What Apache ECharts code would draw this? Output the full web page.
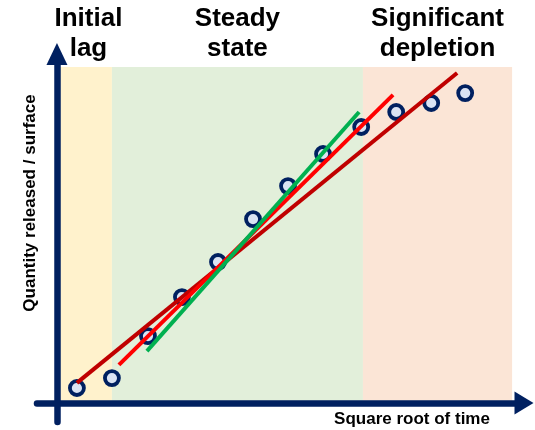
<!DOCTYPE html>
<html>
<head>
<meta charset="utf-8">
<style>
html,body{margin:0;padding:0;background:#fff;}
#chart{width:535px;height:430px;}
</style>
<script src="https://cdn.jsdelivr.net/npm/echarts@6/dist/echarts.min.js"></script>
</head>
<body>
<div id="chart"></div>
<script>
// Data (arbitrary units)
const sqrtTime = [0.57, 1.57, 2.6, 3.57, 4.6, 5.6, 6.6, 7.6, 8.69, 9.69, 10.69, 11.66];
const released = [0.5, 0.83, 2.23, 3.53, 4.7, 6.13, 7.23, 8.3, 9.2, 9.7, 10.0, 10.33];

const fitAllX = [0.57, 11.43];
const fitAllY = [0.67, 11.0];
const fitMidX = [1.77, 9.6];
const fitMidY = [1.27, 10.27];
const fitSteadyX = [2.57, 8.63];
const fitSteadyY = [1.73, 9.7];

const phaseNames = ['Initial\nlag', 'Steady\nstate', 'Significant\ndepletion'];
const phaseBounds = [0, 1.57, 8.74, 13.0];
const phaseTop = 11.2;
const phaseColors = ['#FFF2CC', '#E2EFDA', '#FBE5D6'];

const xTitle = 'Square root of time';
const yTitle = 'Quantity released / surface';

const FONT = '"Liberation Sans", Arial, sans-serif';
const NAVY = '#002060';

const pairs = (xs, ys) => xs.map((x, i) => [x, ys[i]]);

const chart = echarts.init(document.getElementById('chart'));

const areas = phaseNames.map((name, i) => [
  { name: name, xAxis: phaseBounds[i], yAxis: 0,
    itemStyle: { color: phaseColors[i], opacity: 1 },
    label: i === 0 ? { offset: [4, 0] } : {} },
  { xAxis: phaseBounds[i + 1], yAxis: phaseTop }
]);

chart.setOption({
  animation: false,
  grid: { left: 37, right: 11, top: 54, bottom: 8 },
  xAxis: {
    type: 'value', min: -0.57, max: 13.34, z: 10,
    axisLine: { show: true, onZero: true, symbol: ['none', 'triangle'], symbolSize: [23, 19],
      lineStyle: { color: NAVY, width: 6.5 } },
    axisTick: { show: false }, axisLabel: { show: false }, splitLine: { show: false }
  },
  yAxis: {
    type: 'value', min: -0.633, max: 11.633, z: 10,
    axisLine: { show: true, onZero: true, symbol: ['none', 'triangle'], symbolSize: [21, 22],
      lineStyle: { color: NAVY, width: 6.5 } },
    axisTick: { show: false }, axisLabel: { show: false }, splitLine: { show: false }
  },
  series: [
    {
      type: 'line', data: [], z: 1, silent: true,
      markArea: {
        silent: true,
        label: { show: true, position: 'top', distance: 3, color: '#000', fontFamily: FONT,
          fontSize: 26, fontWeight: 'bold', lineHeight: 30 },
        data: areas
      }
    },
    {
      type: 'scatter', z: 3, data: pairs(sqrtTime, released),
      symbol: 'circle', symbolSize: 14,
      itemStyle: { color: '#DAE3F3', borderColor: NAVY, borderWidth: 3.8, opacity: 1 }
    },
    { type: 'line', z: 4, data: pairs(fitAllX, fitAllY), showSymbol: false, symbol: 'none',
      lineStyle: { color: '#C00000', width: 4 } },
    { type: 'line', z: 4, data: pairs(fitMidX, fitMidY), showSymbol: false, symbol: 'none',
      lineStyle: { color: '#FF0000', width: 4 } },
    { type: 'line', z: 4, data: pairs(fitSteadyX, fitSteadyY), showSymbol: false, symbol: 'none',
      lineStyle: { color: '#00B050', width: 4 } }
  ],
  graphic: [
    { type: 'text', x: 412, y: 419, z: 20,
      style: { text: xTitle, fill: '#000', font: 'bold 17px ' + FONT, align: 'center', verticalAlign: 'middle' } },
    { type: 'text', x: 30, y: 203, rotation: Math.PI / 2, z: 20,
      style: { text: yTitle, fill: '#000', font: 'bold 17px ' + FONT, align: 'center', verticalAlign: 'middle' } }
  ]
});
</script>
</body>
</html>
